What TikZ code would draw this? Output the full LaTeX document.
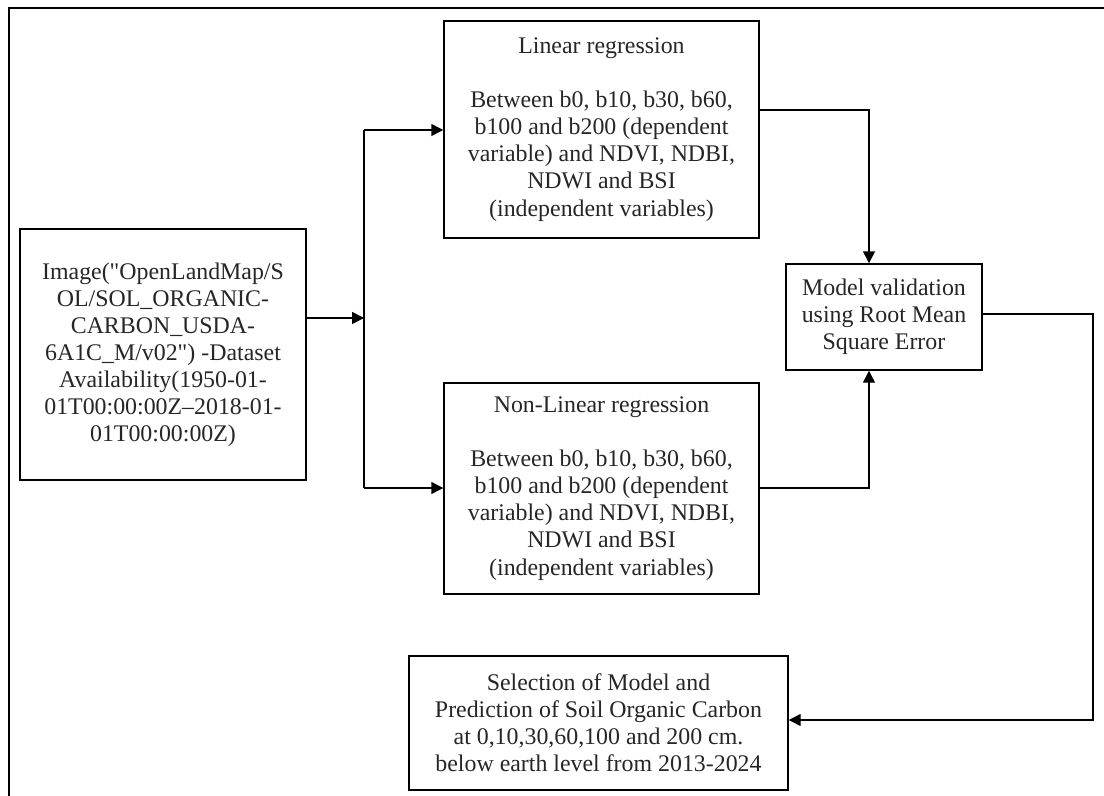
\documentclass[tikz,border=0pt]{standalone}
\usepackage{fontspec}
\setmainfont{Liberation Serif}[Ligatures=TeXOff]
\usetikzlibrary{arrows.meta,calc}
\begin{document}
\begin{tikzpicture}[x=0.75pt,y=-0.75pt,
  box/.style={draw=black,line width=1.1pt,rectangle,align=center,inner sep=0pt,
    font=\fontsize{17.9}{20.3}\selectfont,text=black!85},
  conn/.style={draw=black,line width=1.1pt,-{Triangle[length=9pt,width=9pt]}},
  plain/.style={draw=black,line width=1.1pt}]
\useasboundingbox (0,0) rectangle (1104,796);
\draw[plain] (9,796) -- (9,8) -- (1104,8);
\node[box,minimum width=286*0.75pt,minimum height=251*0.75pt] (src) at (163,354.5)
  {Image("OpenLandMap/S\\OL/SOL\_ORGANIC-\\CARBON\_USDA-\\6A1C\_M/v02") -Dataset\\Availability(1950-01-\\01T00:00:00Z–2018-01-\\01T00:00:00Z)};
\node[box,minimum width=315*0.75pt,minimum height=217*0.75pt] (lin) at (601.5,129.5)
  {Linear regression\\[20.3pt]Between b0, b10, b30, b60,\\b100 and b200 (dependent\\variable) and NDVI, NDBI,\\NDWI and BSI\\(independent variables)};
\node[box,minimum width=315*0.75pt,minimum height=211*0.75pt] (nonlin) at (601.5,488.5)
  {Non-Linear regression\\[20.3pt]Between b0, b10, b30, b60,\\b100 and b200 (dependent\\variable) and NDVI, NDBI,\\NDWI and BSI\\(independent variables)};
\node[box,minimum width=196*0.75pt,minimum height=106*0.75pt] (val) at (884,317)
  {Model validation\\using Root Mean\\Square Error};
\node[box,minimum width=379*0.75pt,minimum height=134*0.75pt] (sel) at (598.5,723)
  {Selection of Model and\\Prediction of Soil Organic Carbon\\at 0,10,30,60,100 and 200 cm.\\below earth level from 2013-2024};
\coordinate (j) at (364,318);
\coordinate (jt) at (364,130);
\coordinate (jb) at (364,488);
\coordinate (c1) at (869,110);
\coordinate (c2) at (1093,720);
\draw[conn] (src.east |- j) -- (j);
\draw[plain] (jt) -- (jb);
\draw[conn] (jt) -- (jt -| lin.west);
\draw[conn] (jb) -- (jb -| nonlin.west);
\draw[conn] (lin.east |- c1) -- (c1) -- (c1 |- val.north);
\draw[conn] (nonlin.east |- jb) -| (c1 |- val.south);
\draw[conn] (val.east |- 0,314) -- (c2 |- 0,314) -- (c2) -- (c2 -| sel.east);
\end{tikzpicture}
\end{document}
